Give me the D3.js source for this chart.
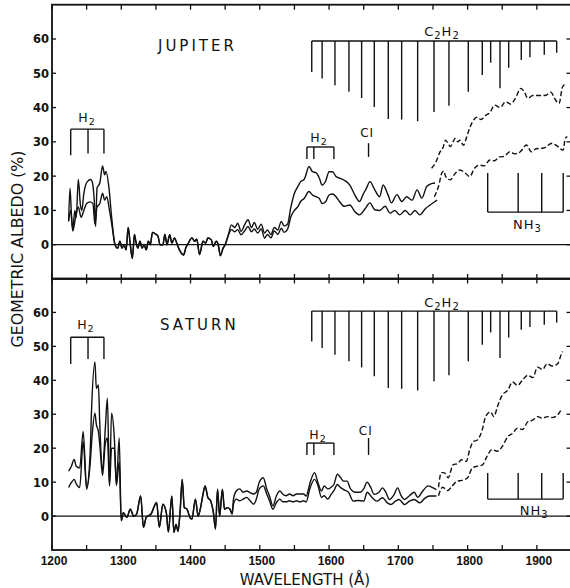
<!DOCTYPE html>
<meta charset="utf-8">

<!-- Load d3.js -->
<script src="https://d3js.org/d3.v7.min.js"></script>

<style>
body {
  margin: 0;
  background: #fff;
}
text {
  font-family: "DejaVu Sans", sans-serif;
  fill: #111;
}
.xlab {
  font-family: "Liberation Sans", Arial, sans-serif;
  font-weight: bold;
  font-size: 12px;
}
.ylab {
  font-weight: bold;
  font-size: 11.5px;
}
.frame { stroke: #111; stroke-width: 1.8; fill: none; }
.tick { stroke: #111; stroke-width: 1.3; }
.curve { fill: none; stroke: #111; stroke-width: 1.4; stroke-linejoin: round; }
.dashed { stroke-dasharray: 5,2.5; }
.ann { stroke: #111; stroke-width: 1.4; fill: none; }
</style>

<div id="chart"></div>

<script>

// ---- axis ticks ----
var xTickLabels = [1200, 1300, 1400, 1500, 1600, 1700, 1800, 1900];
var yTickLabels = [0, 10, 20, 30, 40, 50, 60];

// ---- band markers (wavelength in A, strength in albedo %) ----
var c2h2Bands = [1575, 1590, 1608.5, 1628.7, 1647, 1665.3, 1685.5, 1704.8, 1727.9, 1751.5,
                 1773.1, 1801, 1821.2, 1833.3, 1846.8, 1859.3, 1877.5, 1890, 1910.7, 1928.6];
var c2h2Depth = [9, 10.9, 12.9, 14.8, 16.6, 19.2, 22.7, 22.9, 23.4, 20.7,
                 18.9, 14.8, 9.9, 6.3, 13.8, 7.8, 5.5, 4.7, 4, 3.4];
var h2UvBands = [1227, 1252, 1275];
var h2VisBands = [1568, 1578, 1607];
var ciLine = 1657;
var nh3Bands = [1829, 1873, 1907, 1938];

// ---- Jupiter spectra [wavelength, albedo %] ----
var jupUpperUv = [[1224,6.8],[1226,16.5],[1228,9],[1230,4.4],[1233,10],[1235,8],[1238,19],[1241,11.6],
  [1243,10],[1246,15],[1251,18.4],[1256,19],[1258,18.4],[1261,13],[1263,5.3],[1265,16.5],[1269,18],
  [1273,23],[1276,20.4],[1278,21.4],[1282,17],[1286,8.3],[1291,0]];
var jupLowerUv = [[1224,7],[1227,10],[1230,4],[1234,8],[1238,11],[1242,8],[1246,10],[1250,12],
  [1255,12.5],[1259,12],[1262,6],[1265,11],[1269,12],[1273,15],[1276,13],[1279,14],[1283,10],
  [1287,5],[1291,0]];
var jupNoise = [[1295,-1],[1298,1],[1301,-1],[1304,0],[1307,-1.5],[1310,5],[1313,0],[1316,-4],
  [1319,3],[1321,1],[1324,-1],[1327,1],[1330,-1],[1333,0],[1336,-1.5],[1339,1],[1342,0],[1345,3.6],
  [1349,3.2],[1353,2.5],[1356,0],[1360,0],[1363,3],[1366,0],[1370,2.9],[1373,0.5],[1377,2],
  [1380,0.5],[1384,-1.5],[1390,-3],[1393,-1],[1397,0.5],[1402,2],[1406,1],[1409,1.6],[1413,-2.9],
  [1418,1],[1422,0.5],[1425,2],[1430,1.4],[1433,-0.5],[1437,1],[1440,0],[1443,-3.2],[1447,-1],
  [1450,0],[1454,2.4]];
var jupUpperVis = [[1459,5.8],[1464,5],[1468,6.3],[1473,3.9],[1478,5.8],[1483,7.3],[1488,5],
  [1492,6.5],[1497,4.5],[1502,6],[1507,3.4],[1511,4.3],[1516,3],[1521,5],[1526,4.3],[1531,6.8],
  [1535,5.5],[1540,6],[1545,11.1],[1550,15],[1555,17],[1559,18.4],[1564,19],[1566,20],[1571,22.8],
  [1576,21.3],[1581,21],[1586,19.4],[1590,17.4],[1595,18.5],[1600,21.3],[1605,21.3],[1610,19.9],
  [1615,19.4],[1622,18.8],[1630,17.4],[1637,14.6],[1644,12.6],[1649,14.6],[1654,16.5],[1659,18.4],
  [1666,16],[1673,14],[1678,17.4],[1685,14.6],[1690,12.2],[1698,14.6],[1705,12.6],[1712,14],
  [1720,13],[1727,16],[1734,13.6],[1741,17],[1749,17.9],[1753,18]];
var jupLowerVis = [[1459,4.4],[1464,3.8],[1468,4.4],[1473,2.9],[1478,4],[1483,5.3],[1488,3.8],
  [1492,4.6],[1497,3.4],[1502,4.6],[1507,1.9],[1511,3],[1516,2],[1521,4],[1526,3],[1531,4.8],
  [1535,3.6],[1540,4.5],[1545,8.2],[1550,10],[1555,11.1],[1559,12.6],[1564,13.5],[1571,15.5],
  [1576,14.5],[1581,14],[1586,13.5],[1590,12],[1595,12.5],[1600,14.5],[1605,14.8],[1610,14],
  [1615,12.6],[1622,11.2],[1630,11.6],[1637,9.7],[1644,8.7],[1652,10.5],[1659,12.2],[1666,10.2],
  [1673,10],[1681,11.2],[1688,9.2],[1695,10],[1702,8.7],[1710,10],[1717,8.7],[1724,10],[1731,8.7],
  [1739,10.5],[1746,11.6],[1753,12.6],[1756,13]];
var jupUpperExt = [[1748,22.3],[1754,24],[1760,27],[1765,28.6],[1768,30.5],[1772,29.5],[1775,28.6],
  [1779,30],[1782,31],[1786,30],[1789,30.5],[1794,29],[1798,31],[1801,32.9],[1807,35.8],[1814,37.2],
  [1819,36.5],[1826,37.7],[1832,38.5],[1839,40.7],[1847,40],[1855,41.7],[1862,41],[1869,42.7],
  [1877,45.6],[1882,44.5],[1887,42.7],[1894,43.5],[1900,43.5],[1907,43.5],[1913,43.6],[1920,44.5],
  [1927,42.2],[1932,41.2],[1937,46],[1942,47]];
var jupLowerExt = [[1752,14],[1758,17],[1763,21],[1766,21.5],[1768,20],[1775,18.9],[1782,20.8],
  [1789,21.8],[1796,21],[1803,19.9],[1810,22.3],[1817,23.2],[1824,23],[1832,24.7],[1839,24.5],
  [1846,25.6],[1853,25.8],[1861,27.1],[1868,26.5],[1876,27.1],[1885,29.1],[1892,27.1],[1899,28],
  [1910,28.2],[1922,29.6],[1929,28.8],[1938,27.6],[1941,31],[1944,31.5]];

// ---- Saturn spectra [wavelength, albedo %] ----
var satUpperUv = [[1224,13.2],[1228,14.7],[1232,16.7],[1235,14.7],[1240,14.2],[1245,24.9],[1250,8.4],
  [1255,18.1],[1257,30.8],[1262,45.4],[1264,37.6],[1267,38.6],[1269,26.9],[1273,13.7],[1277,25.9],
  [1280,34.7],[1283,8.9],[1286,30.3],[1290,23],[1293,9.4],[1297,23],[1300,-1.4]];
var satLowerUv = [[1224,8.4],[1228,9.9],[1232,10.8],[1235,9.5],[1240,8.4],[1245,22],[1250,7.9],
  [1255,15.2],[1258,24],[1262,30.3],[1264,27],[1267,24.9],[1269,21],[1273,12],[1277,21.5],
  [1280,23],[1283,8.9],[1286,20],[1290,20],[1293,9],[1297,16],[1300,-1.4]];
var satNoise = [[1303,1],[1308,-0.4],[1313,2],[1318,0],[1322,0.5],[1328,5.9],[1332,-3.3],[1336,-0.4],
  [1343,0.6],[1351,4],[1355,-3.3],[1360,3.5],[1365,1],[1368,-4.7],[1373,5.9],[1376,-4.8],[1379,-2.5],
  [1382,-4.5],[1385,1.6],[1388,10.8],[1391,2.5],[1395,2],[1399,-0.4],[1402,-0.9],[1407,5],[1411,0],
  [1414,2],[1418,6.4],[1421,8.9],[1425,5.5],[1429,4.5],[1433,1],[1436,-3.8],[1439,7.9],[1442,0],
  [1446,7.9],[1449,2],[1453,2.5],[1457,2],[1460,0.6]];
var satUpperVis = [[1462,5],[1466,7.4],[1471,8],[1476,7],[1481,7.4],[1486,6.9],[1491,6.5],[1495,7],
  [1499,9.8],[1505,11.3],[1510,8],[1514,5.9],[1519,3],[1524,6],[1529,7.4],[1533,6.5],[1538,6],
  [1543,6.5],[1548,6],[1553,6.5],[1558,6.5],[1563,6.5],[1567,5.9],[1572,9.4],[1579,12.8],[1584,9.8],
  [1589,7.4],[1593,8.9],[1598,8],[1603,8.5],[1607,9.3],[1612,12.3],[1616,11.5],[1621,10.3],
  [1626,10.3],[1631,8],[1638,7],[1645,7],[1650,8],[1655,10],[1660,8.5],[1665,6.4],[1672,7],
  [1677,8.3],[1682,7],[1687,4.9],[1694,6.4],[1699,8.3],[1704,6],[1709,4.9],[1716,6],[1723,7],
  [1728,5.5],[1735,7.3],[1743,8.9],[1748,8.5],[1755,7.8]];
var satLowerVis = [[1462,3.5],[1466,5],[1471,4.5],[1476,5],[1481,5.5],[1486,4.5],[1491,3.5],[1495,5],
  [1499,7.9],[1505,8.9],[1510,6.5],[1514,4.5],[1519,2],[1524,4],[1529,5],[1533,4.2],[1538,4.2],
  [1543,4.5],[1548,4.2],[1553,4.5],[1558,4.2],[1563,4.5],[1567,4.2],[1572,7.9],[1579,10.8],[1584,9],
  [1589,5.5],[1593,6],[1598,5],[1603,6.4],[1607,7.5],[1612,9.3],[1616,8.5],[1621,7.8],[1628,7],
  [1635,4.4],[1642,4.6],[1650,4.4],[1655,7],[1662,5.5],[1669,4.4],[1677,5.4],[1684,3.9],[1689,3.4],
  [1696,4.4],[1701,4.9],[1709,3.4],[1716,4.4],[1723,4.9],[1731,3.9],[1738,5.2],[1745,5.9],[1755,5.9]];
var satUpperExt = [[1758,8.5],[1762,12.8],[1766,12.8],[1772,11.3],[1779,15.1],[1786,15.5],[1791,16.6],
  [1798,16.1],[1803,19.5],[1808,21.9],[1814,22.4],[1821,25.3],[1826,29.3],[1833,30.7],[1838,29.3],
  [1843,32.2],[1850,35.6],[1858,37.1],[1865,39.5],[1872,38.5],[1879,40],[1887,41.5],[1894,40.8],
  [1901,43.9],[1908,43.2],[1915,44.9],[1922,44.2],[1930,44.9],[1935,47.5],[1937,48.5]];
var satLowerExt = [[1758,6],[1764,8.5],[1771,7.5],[1778,8.9],[1785,10.3],[1792,10.5],[1800,11.3],
  [1807,14.2],[1814,14.7],[1821,15],[1828,17.6],[1835,19.6],[1843,19.1],[1850,20.5],[1858,23.4],
  [1865,24.4],[1872,25.9],[1879,25.5],[1887,27.8],[1894,28.3],[1901,29.3],[1908,28.8],[1915,29.3],
  [1922,29],[1930,29.8],[1935,31.3]];

// Panel settings (annotation levels are in albedo units of each panel)
var panels = [
  { name: "JUPITER", top: 4.7, bottom: 279,
    solid: [jupUpperUv.concat(jupNoise, jupUpperVis), jupLowerUv.concat(jupNoise, jupLowerVis)],
    dashed: [jupUpperExt, jupLowerExt],
    title: [1353, 56.5], c2h2Top: 59.4, c2h2Label: [1763, 60.8],
    h2UvTop: 33.7, h2UvBot: [26.1, 26.6, 26.6], h2UvLabel: [1250.5, 35.8],
    h2VisTop: 28.5, h2VisBot: 25, h2VisLabel: [1585.5, 29.9],
    ci: [29.6, 25.6], ciLabel: [1655, 31.4],
    nh3Base: 9.5, nh3Top: 20.9, nh3Label: [1886.5, 4.6] },
  { name: "SATURN", top: 278.5, bottom: 550,
    solid: [satUpperUv.concat(satNoise, satUpperVis), satLowerUv.concat(satNoise, satLowerVis)],
    dashed: [satUpperExt, satLowerExt],
    title: [1356, 54.8], c2h2Top: 60.4, c2h2Label: [1763, 61.6],
    h2UvTop: 52.7, h2UvBot: [44.8, 46.3, 46.3], h2UvLabel: [1249, 55.1],
    h2VisTop: 21.5, h2VisBot: 18, h2VisLabel: [1584, 22.7],
    ci: [23, 18], ciLabel: [1653, 23.9],
    nh3Base: 5, nh3Top: 12.7, nh3Label: [1896, 0.3] }
];

var width = 570
var height = 588

var svg = d3.select("#chart")
  .append("svg")
    .attr("width", width)
    .attr("height", height)

// Shared wavelength scale
var x = d3.scaleLinear().domain([1200, 1950]).range([52, 571.5]);

// helper to write a label with a subscript digit
function chemLabel(g, px, py, parts, size) {
  var t = g.append("text")
    .attr("x", px).attr("y", py)
    .attr("text-anchor", "middle")
    .style("font-size", size + "px")
    .style("letter-spacing", "1px");
  parts.forEach(function(p) {
    if (p.sub) {
      t.append("tspan").attr("dy", 3).style("font-size", (size - 3) + "px").text(p.s);
    } else {
      t.append("tspan").attr("dy", p.up ? -3 : 0).text(p.s);
    }
  });
}

panels.forEach(function(p) {
  var y = d3.scaleLinear().domain([-10, 70]).range([p.bottom, p.top]);
  var g = svg.append("g");

  var line = d3.line()
    .x(function(d) { return x(d[0]); })
    .y(function(d) { return y(d[1]); })
    .curve(d3.curveMonotoneX);

  // zero line
  g.append("line").attr("class", "tick")
    .attr("x1", x(1200)).attr("x2", x(1950))
    .attr("y1", y(0)).attr("y2", y(0));

  // y ticks on both sides, pointing inward
  yTickLabels.forEach(function(v) {
    g.append("line").attr("class", "tick")
      .attr("x1", x(1200)).attr("x2", x(1200) + 4)
      .attr("y1", y(v)).attr("y2", y(v));
    g.append("line").attr("class", "tick")
      .attr("x1", x(1950) - 5).attr("x2", x(1950))
      .attr("y1", y(v)).attr("y2", y(v));
    g.append("text").attr("class", "ylab")
      .attr("x", x(1200) - 3).attr("y", y(v) + 4.5)
      .attr("text-anchor", "end")
      .text(v);
  });

  // x ticks every 50 A on the top and bottom of each panel
  d3.range(1200, 1951, 50).forEach(function(w) {
    g.append("line").attr("class", "tick")
      .attr("x1", x(w)).attr("x2", x(w))
      .attr("y1", p.top).attr("y2", p.top + 5);
    g.append("line").attr("class", "tick")
      .attr("x1", x(w)).attr("x2", x(w))
      .attr("y1", p.bottom).attr("y2", p.bottom - 5);
  });

  // frame
  g.append("rect").attr("class", "frame")
    .attr("x", x(1200)).attr("y", p.top)
    .attr("width", x(1950) - x(1200)).attr("height", p.bottom - p.top);

  // spectra
  p.solid.forEach(function(s) {
    g.append("path").attr("class", "curve").attr("d", line(s));
  });
  p.dashed.forEach(function(s) {
    g.append("path").attr("class", "curve dashed").attr("d", line(s));
  });

  // planet name
  g.append("text")
    .attr("x", x(p.title[0])).attr("y", y(p.title[1]))
    .style("font-size", "15px")
    .style("letter-spacing", "3px")
    .text(p.name);

  // C2H2 comb
  g.append("line").attr("class", "ann")
    .attr("x1", x(c2h2Bands[0])).attr("x2", x(c2h2Bands[c2h2Bands.length - 1]))
    .attr("y1", y(p.c2h2Top)).attr("y2", y(p.c2h2Top));
  g.selectAll(".c2h2")
    .data(c2h2Bands)
    .enter()
    .append("line").attr("class", "ann")
      .attr("x1", function(d) { return x(d); })
      .attr("x2", function(d) { return x(d); })
      .attr("y1", y(p.c2h2Top))
      .attr("y2", function(d, i) { return y(p.c2h2Top - c2h2Depth[i]); });
  chemLabel(g, x(p.c2h2Label[0]), y(p.c2h2Label[1]),
    [{s: "C"}, {s: "2", sub: true}, {s: "H", up: true}, {s: "2", sub: true}], 13);

  // H2 bracket (far UV)
  g.append("line").attr("class", "ann")
    .attr("x1", x(h2UvBands[0])).attr("x2", x(h2UvBands[2]))
    .attr("y1", y(p.h2UvTop)).attr("y2", y(p.h2UvTop));
  h2UvBands.forEach(function(w, i) {
    g.append("line").attr("class", "ann")
      .attr("x1", x(w)).attr("x2", x(w))
      .attr("y1", y(p.h2UvTop)).attr("y2", y(p.h2UvBot[i]));
  });
  chemLabel(g, x(p.h2UvLabel[0]), y(p.h2UvLabel[1]), [{s: "H"}, {s: "2", sub: true}], 12.5);

  // H2 bracket (visible side)
  g.append("line").attr("class", "ann")
    .attr("x1", x(h2VisBands[0])).attr("x2", x(h2VisBands[2]))
    .attr("y1", y(p.h2VisTop)).attr("y2", y(p.h2VisTop));
  h2VisBands.forEach(function(w) {
    g.append("line").attr("class", "ann")
      .attr("x1", x(w)).attr("x2", x(w))
      .attr("y1", y(p.h2VisTop)).attr("y2", y(p.h2VisBot));
  });
  chemLabel(g, x(p.h2VisLabel[0]), y(p.h2VisLabel[1]), [{s: "H"}, {s: "2", sub: true}], 12.5);

  // CI line
  g.append("line").attr("class", "ann")
    .attr("x1", x(ciLine)).attr("x2", x(ciLine))
    .attr("y1", y(p.ci[0])).attr("y2", y(p.ci[1]));
  chemLabel(g, x(p.ciLabel[0]), y(p.ciLabel[1]), [{s: "CI"}], 12);

  // NH3 comb
  g.append("line").attr("class", "ann")
    .attr("x1", x(nh3Bands[0])).attr("x2", x(nh3Bands[3]))
    .attr("y1", y(p.nh3Base)).attr("y2", y(p.nh3Base));
  nh3Bands.forEach(function(w) {
    g.append("line").attr("class", "ann")
      .attr("x1", x(w)).attr("x2", x(w))
      .attr("y1", y(p.nh3Base)).attr("y2", y(p.nh3Top));
  });
  chemLabel(g, x(p.nh3Label[0]), y(p.nh3Label[1]), [{s: "NH"}, {s: "3", sub: true}], 13);
});

// x tick labels under the lower panel
xTickLabels.forEach(function(w) {
  svg.append("text").attr("class", "xlab")
    .attr("x", x(w) + 2).attr("y", 564.5)
    .attr("text-anchor", "middle")
    .text(w);
});

// axis titles
svg.append("text")
  .attr("x", 305).attr("y", 585)
  .attr("text-anchor", "middle")
  .style("font-size", "15px")
  .text("WAVELENGTH (Å)");

svg.append("text")
  .attr("transform", "translate(23,249) rotate(-90)")
  .attr("text-anchor", "middle")
  .style("font-size", "15.8px")
  .text("GEOMETRIC ALBEDO (%)");

</script>
